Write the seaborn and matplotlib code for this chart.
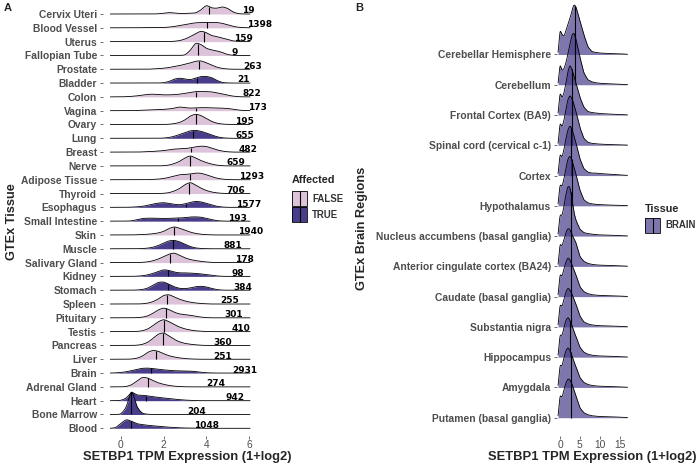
import numpy as np
import matplotlib
matplotlib.use("Agg")
import matplotlib.pyplot as plt
from matplotlib.patches import Rectangle
from matplotlib.lines import Line2D
import seaborn as sns

# ---------------- Panel A data ----------------
tissues_A = ["Cervix Uteri", "Blood Vessel", "Uterus", "Fallopian Tube", "Prostate",
             "Bladder", "Colon", "Vagina", "Ovary", "Lung", "Breast", "Nerve",
             "Adipose Tissue", "Thyroid", "Esophagus", "Small Intestine", "Skin",
             "Muscle", "Salivary Gland", "Kidney", "Stomach", "Spleen", "Pituitary",
             "Testis", "Pancreas", "Liver", "Brain", "Adrenal Gland", "Heart",
             "Bone Marrow", "Blood"]
affected_A = [False, False, False, False, False, True, False, False, False, True, False,
              False, False, False, True, True, False, True, False, True, True, False,
              False, False, False, False, True, False, True, True, True]
median_A = [4.14, 4.05, 3.91, 3.63, 3.64, 3.56, 3.53, 3.52, 3.50, 3.39, 3.30, 3.23,
            3.22, 3.20, 3.03, 2.69, 2.47, 2.44, 2.31, 2.22, 2.22, 2.17, 2.09, 2.00,
            1.95, 1.64, 1.42, 1.25, 1.19, 0.48, 0.47]
count_A = [19, 1398, 159, 9, 263, 21, 822, 173, 195, 655, 482, 659, 1293, 706, 1577,
           193, 1940, 881, 178, 98, 384, 255, 301, 410, 360, 251, 2931, 274, 942, 204, 1048]
count_x_A = [5.95, 6.52, 5.74, 5.32, 6.19, 5.72, 6.14, 6.38, 5.81, 5.81, 5.95, 5.39,
             6.14, 5.39, 6.00, 5.44, 6.09, 5.25, 5.77, 5.49, 5.72, 5.11, 5.30, 5.63,
             4.78, 4.78, 5.81, 4.45, 5.34, 3.56, 4.03]

# expression grid (1+log2 TPM) on which ridge heights were read
grid_A = [-0.5, -0.25, 0.0, 0.25, 0.5, 0.75, 1.0, 1.25, 1.5, 1.75, 2.0, 2.25, 2.5, 2.75,
          3.0, 3.25, 3.5, 3.75, 4.0, 4.25, 4.5, 4.75, 5.0, 5.25, 5.5, 5.75, 6.0]
d_cervix = [0,0,0,0,0,0,0,0,0,0.2,0.7,1.5,1,0.5,0.5,0.8,1,4,9,6,5.7,7.3,5.7,2,0.3,0,0]
d_vessel = [0,0,0,0,0,0,0.2,0.2,0.2,0.2,0.3,0.7,1.3,2.3,3.3,4.3,5,5.3,5.3,5.5,5.3,4.5,3,1.5,0.5,0.2,0]
d_uterus = [0,0,0,0,0,0,0,0,0,0,0,0,0.3,1,2.5,5,8,10.7,9,6,5,3.5,2,0.7,0.2,0,0]
d_fallop = [0,0,0,0,0,0,0,0,0,0,0,0,0,0,0.3,5,12.8,11,7,5.5,4.5,3,0.8,0.1,0,0,0]
d_prost = [0,0,0,0,0,0,0,0,0.3,0.6,1,1.7,2.7,3.7,5,6.3,8,8.5,6.5,4,2,0.8,0.2,0,0,0,0]
d_bladder = [0,0,0,0,0,0,0,0,0,0,0.3,1.5,4,5,4,3.3,5,6.7,6.7,5.5,2.5,0.5,0.1,0,0,0,0]
d_colon = [0,0,0,0.2,0.5,1,1.7,2.5,2.7,2.3,2,2,2.2,2.7,3.5,4.5,5.3,5.3,5.3,5,4,3,1.7,0.7,0.2,0,0]
d_vagina = [0,0,0,0,0,0.2,0.4,0.6,0.8,1,1.3,1.7,2.5,3.8,3,2.5,2.8,3,3,2.8,2.7,2.5,2.2,1.5,0.6,0.2,0]
d_ovary = [0,0,0,0,0,0,0,0,0,0,0,0.2,0.8,2,4.5,8.5,10.5,9,6,3,1.2,0.4,0.1,0,0,0,0]
d_lung = [0,0,0,0,0,0,0,0,0,0,0.2,0.8,2,3.8,5.7,7.5,8,7,5.3,3.3,1.5,0.5,0.1,0,0,0,0]
d_breast = [0,0,0,0,0,0,0.2,0.4,0.7,1,1.5,2.3,3,3.3,3.5,4.2,5.3,6,5.7,4,2.2,1,0.3,0,0,0,0]
d_nerve = [0,0,0,0,0,0,0,0,0,0,0.2,0.8,2.3,4.5,8,10.3,8,5.3,3.3,1.8,0.7,0.2,0,0,0,0,0]
d_adipose = [0,0,0,0,0,0,0,0,0.3,0.6,1.2,2.3,3.7,5,5.3,5.7,6.7,6.5,5,3,1.5,0.6,0.2,0,0,0,0]
d_thyroid = [0,0,0,0,0,0,0,0,0,0,0.2,0.8,2.5,5,9,11.3,8.5,5.3,3,1.5,0.6,0.2,0,0,0,0,0]
d_esoph = [0,0,0,0,0.2,0.5,1,2,3.3,4.3,4.7,4,3,2.5,3.5,5,6,5.5,4,2.3,1,0.3,0,0,0,0,0]
d_smallint = [0,0,0,0,0.3,1.5,2.7,3,3,2.8,2.7,2.8,3,3.2,3.5,4.2,4.3,4,2.8,1.5,0.5,0.1,0,0,0,0,0]
d_skin = [0,0,0,0,0,0.2,0.4,0.7,1.2,2,3.5,6.5,8.3,6.7,4.7,2.8,1.5,0.7,0.3,0.1,0,0,0,0,0,0,0]
d_muscle = [0,0,0,0,0,0,0.2,0.6,1.5,3.3,5.7,8,8.5,7,4.5,2.2,0.8,0.3,0.1,0,0,0,0,0,0,0,0]
d_saliv = [0,0,0,0,0,0,0.2,0.7,1.8,3.5,6,8.5,9.7,7.3,4.7,3,2,1.2,0.6,0.2,0,0,0,0,0,0,0]
d_kidney = [0,0,0,0,0,0.2,0.6,1.5,3,5,6.7,6,4.3,3.5,3.5,3.3,3,2.5,1.8,1,0.4,0.1,0,0,0,0,0]
d_stomach = [0,0,0,0,0,0.2,0.7,2,5,8,8.3,6,3.3,1.8,1.5,2.3,3.5,4,3.3,1.8,0.6,0.1,0,0,0,0,0]
d_spleen = [0,0,0,0,0,0,0.2,0.8,2.3,5,8.7,9.5,7,4.7,3,1.8,1,0.5,0.2,0,0,0,0,0,0,0,0]
d_pituit = [0,0,0,0,0,0.2,0.6,1.8,4.5,8,10,8.3,5.5,3.8,3.2,2.7,1.5,0.7,0.2,0,0,0,0,0,0,0,0]
d_testis = [0,0,0,0,0,0.2,0.8,2.5,6,10,12.3,10,7,4.5,2.7,1.6,0.8,0.4,0.1,0,0,0,0,0,0,0,0]
d_pancreas = [0,0,0,0,0,0.2,1,3,7,11.5,12.8,9.5,6,3.5,2,1.2,0.6,0.2,0,0,0,0,0,0,0,0,0]
d_liver = [0,0,0,0,0.2,1,3,7,9,8,5.5,3.5,2.2,1.3,0.7,0.3,0.1,0,0,0,0,0,0,0,0,0,0]
d_brain = [0,0.2,0.6,1.3,2.5,3.8,4.8,5,4.5,3.8,3.2,2.7,2.3,2.2,2.2,2,1.5,0.8,0.3,0.1,0,0,0,0,0,0,0]
d_adrenal = [0,0,0,0.3,2,6,9.7,9,6.3,4,2.5,1.4,0.7,0.3,0.1,0,0,0,0,0,0,0,0,0,0,0,0]
d_heart = [0,0,0.3,2.5,9,5.5,5.5,4.8,4,3.3,2.7,2,1.5,1,0.6,0.3,0.1,0,0,0,0,0,0,0,0,0,0]
d_marrow = [0,0,0.3,7,26,7,1,0.2,0,0,0,0,0,0,0,0,0,0,0,0,0,0,0,0,0,0,0]
d_blood = [0,0.5,5,9,7,4.5,3.7,3,2.5,2,1.5,1.1,0.8,0.5,0.3,0.2,0.1,0,0,0,0,0,0,0,0,0,0]
dens_A = [d_cervix, d_vessel, d_uterus, d_fallop, d_prost, d_bladder, d_colon, d_vagina,
          d_ovary, d_lung, d_breast, d_nerve, d_adipose, d_thyroid, d_esoph, d_smallint,
          d_skin, d_muscle, d_saliv, d_kidney, d_stomach, d_spleen, d_pituit, d_testis,
          d_pancreas, d_liver, d_brain, d_adrenal, d_heart, d_marrow, d_blood]

# ---------------- Panel B data ----------------
regions_B = ["Cerebellar Hemisphere", "Cerebellum", "Frontal Cortex (BA9)",
             "Spinal cord (cervical c-1)", "Cortex", "Hypothalamus",
             "Nucleus accumbens (basal ganglia)", "Anterior cingulate cortex (BA24)",
             "Caudate (basal ganglia)", "Substantia nigra", "Hippocampus", "Amygdala",
             "Putamen (basal ganglia)"]
median_B = [3.9, 3.7, 3.0, 2.9, 2.8, 2.9, 2.7, 2.7, 2.7, 2.8, 2.6, 2.7, 2.7]
grid_B = [-0.5, -0.25, 0, 0.5, 1, 1.5, 2, 2.5, 3, 3.5, 4, 5, 6, 7, 8, 9, 10, 12, 14, 16, 17]
b_cer_hem = [0,12,25,20,18,24,30,36,44,50,48,34,20,8,3,2,1.5,1,0.8,0.5,0.3]
b_cerebel = [0,10,21,14,16,22,31,40,50,52,46,28,12,5,3,2,1.5,1,0.7,0.5,0.3]
b_frontal = [0,11,23,17,22,32,44,50,46,39,32,18,8,3.5,2.5,2,1.5,1,0.7,0.5,0.3]
b_spinal = [0,11,23,18,25,36,46,50,47,41,34,18,7,3,2,1.5,1.2,0.8,0.6,0.4,0.3]
b_cortex = [0,11,22,18,26,37,46,50,47,40,33,17,7,3.5,2.5,2.5,2,1.5,1,0.5,0.3]
b_hypoth = [0,11,22,19,27,38,47,50,46,39,32,16,6,3,2,1.5,1.2,0.8,0.6,0.4,0.3]
b_nucacc = [0,11,22,20,30,42,50,49,38,24,16,7,3.5,2.5,2,1.5,1.2,1,0.7,0.4,0.3]
b_antcing = [0,11,23,20,27,34,38,37,32,28,24,10,5,3,2,1.5,1.2,1,0.7,0.4,0.3]
b_caudate = [0,11,23,20,28,35,39,37,32,27,22,10,5,3,2,1.5,1.2,1,0.7,0.4,0.3]
b_substn = [0,11,23,20,28,35,39,37,33,28,23,11,5,3,2,1.5,1.2,1,0.7,0.4,0.3]
b_hippo = [0,11,23,21,30,37,40,37,32,26,21,10,5,3,2,1.5,1.2,1,0.7,0.4,0.3]
b_amygd = [0,11,23,21,30,37,40,37,32,26,21,10,5,3,2,1.5,1.2,1,0.7,0.4,0.3]
b_putamen = [0,11,23,20,28,35,39,38,34,28,22,10,5,3,2,1.5,1.2,1,0.7,0.4,0.3]
dens_B = [b_cer_hem, b_cerebel, b_frontal, b_spinal, b_cortex, b_hypoth, b_nucacc,
          b_antcing, b_caudate, b_substn, b_hippo, b_amygd, b_putamen]

# ---------------- style ----------------
sns.set_theme(style="white")
plt.rcParams["font.family"] = ["Liberation Sans", "DejaVu Sans"]
PINK = "#DCC3DA"
PURPLE = "#483D8B"
GREY_TXT = "#4D4D4D"

W, H = 700, 467
fig = plt.figure(figsize=(W / 100, H / 100), dpi=100)


def px_axes(left, top, right, bottom):
    return fig.add_axes([left / W, 1 - bottom / H, (right - left) / W, (bottom - top) / H])


def smooth(grid, h, xmin, xmax, sigma, n=900):
    xf = np.linspace(xmin, xmax, n)
    yf = np.interp(xf, grid, h)
    dx = xf[1] - xf[0]
    k = int(4 * sigma / dx)
    kern = np.exp(-0.5 * ((np.arange(-k, k + 1) * dx) / sigma) ** 2)
    kern /= kern.sum()
    yf = np.convolve(np.pad(yf, k, mode="constant"), kern, mode="valid")
    return xf, yf


def ridges(ax, names, dens, grid, medians, colors, alpha, row_px, sigma, xmin, xmax):
    n = len(names)
    for i, h in enumerate(dens):
        base = n - 1 - i
        xf, yf = smooth(grid, np.asarray(h, float) / row_px, xmin, xmax, sigma)
        z = 2 + i
        ax.fill_between(xf, base, base + yf, color=colors[i], alpha=alpha, lw=0, zorder=z)
        sns.lineplot(x=xf, y=base + yf, ax=ax, color="black", lw=0.6, sort=False,
                     estimator=None, zorder=z + 0.1)
        ym = np.interp(medians[i], xf, yf)
        ax.plot([medians[i], medians[i]], [base, base + ym], color="black", lw=0.8,
                zorder=z + 0.2, solid_capstyle="butt")
    ax.set_yticks(range(n))
    ax.set_yticklabels(names[::-1], fontweight="bold", color=GREY_TXT)
    for s in ax.spines.values():
        s.set_visible(False)
    ax.tick_params(axis="both", which="both", length=2.5, width=0.5, color="#333333",
                   left=True, bottom=True)
    ax.tick_params(axis="y", pad=1.8)
    ax.tick_params(axis="x", pad=0.6)
    ax.set_facecolor("none")


# ---------------- Panel A ----------------
axA = px_axes(103, 0, 270, 436)
colors_A = [PURPLE if a else PINK for a in affected_A]
ridges(axA, tissues_A, dens_A, grid_A, median_A, colors_A, 1.0, 13.81, 0.06, -0.5, 6.05)
axA.set_xlim((103 - 121) / 21.33, (270 - 121) / 21.33)
axA.set_ylim(-(436 - 428.3) / 13.81, 30 + 14 / 13.81)
axA.set_xticks([0, 2, 4, 6])
axA.tick_params(axis="y", labelsize=7.4)
axA.tick_params(axis="x", labelsize=7.4, labelcolor=GREY_TXT)
n_A = len(tissues_A)
for i, (c, cx) in enumerate(zip(count_A, count_x_A)):
    axA.text(cx, n_A - 1 + 0.04 - i, str(c), ha="center", va="baseline",
             fontsize=6.5, fontweight="bold", color="black", zorder=100,
             family="DejaVu Sans")

# ---------------- Panel B ----------------
axB = px_axes(557, 0, 630, 436)
ridges(axB, regions_B, dens_B, grid_B, median_B, [PURPLE] * len(regions_B), 0.7,
       30.27, 0.12, -0.5, 17)
axB.set_xlim((557 - 560) / 3.97, (630 - 560) / 3.97)
axB.set_ylim(-(436 - 417.7) / 30.27, 12 + 54.5 / 30.27)
axB.set_xticks([0, 5, 10, 15])
axB.tick_params(axis="y", labelsize=7.4)
axB.tick_params(axis="x", labelsize=7.4, labelcolor=GREY_TXT)


# ---------------- titles / labels ----------------
def ftext(x, y, s, **kw):
    fig.text(x / W, 1 - y / H, s, **kw)


ftext(4, 8, "A", fontsize=8, fontweight="bold", ha="left", va="center")
ftext(355, 8, "B", fontsize=8, fontweight="bold", ha="left", va="center")
ftext(12, 222, "GTEx Tissue", fontsize=9.2, fontweight="bold", rotation=90,
      ha="center", va="center")
ftext(362, 228, "GTEx Brain Regions", fontsize=9.2, fontweight="bold", rotation=90,
      ha="center", va="center")
ftext(187, 457, "SETBP1 TPM Expression (1+log2)", fontsize=9.4, fontweight="bold",
      ha="center", va="center")
ftext(592, 457, "SETBP1 TPM Expression (1+log2)", fontsize=9.4, fontweight="bold",
      ha="center", va="center")


# ---------------- legends ----------------
def key(x, y, color, alpha):
    fig.add_artist(Rectangle((x / W, 1 - (y + 15) / H), 15 / W, 15 / H,
                             transform=fig.transFigure, facecolor=color, alpha=alpha,
                             edgecolor="none"))
    fig.add_artist(Rectangle((x / W, 1 - (y + 15) / H), 15 / W, 15 / H,
                             transform=fig.transFigure, facecolor="none",
                             edgecolor="black", lw=0.6))
    fig.add_artist(Line2D([(x + 7.5) / W] * 2, [1 - y / H, 1 - (y + 15) / H],
                          transform=fig.transFigure, color="black", lw=0.8))


ftext(292, 180, "Affected", fontsize=7.8, fontweight="bold", ha="left", va="center")
key(292, 191, PINK, 1.0)
ftext(312, 198.5, "FALSE", fontsize=6.9, fontweight="bold", color="#333333",
      ha="left", va="center")
key(292, 207, PURPLE, 1.0)
ftext(312, 214.5, "TRUE", fontsize=6.9, fontweight="bold", color="#333333",
      ha="left", va="center")

ftext(645, 209, "Tissue", fontsize=7.8, fontweight="bold", ha="left", va="center")
key(645, 218, PURPLE, 0.7)
ftext(665, 225.5, "BRAIN", fontsize=6.9, fontweight="bold", color="#333333",
      ha="left", va="center")

fig.savefig("out.png", dpi=100)
